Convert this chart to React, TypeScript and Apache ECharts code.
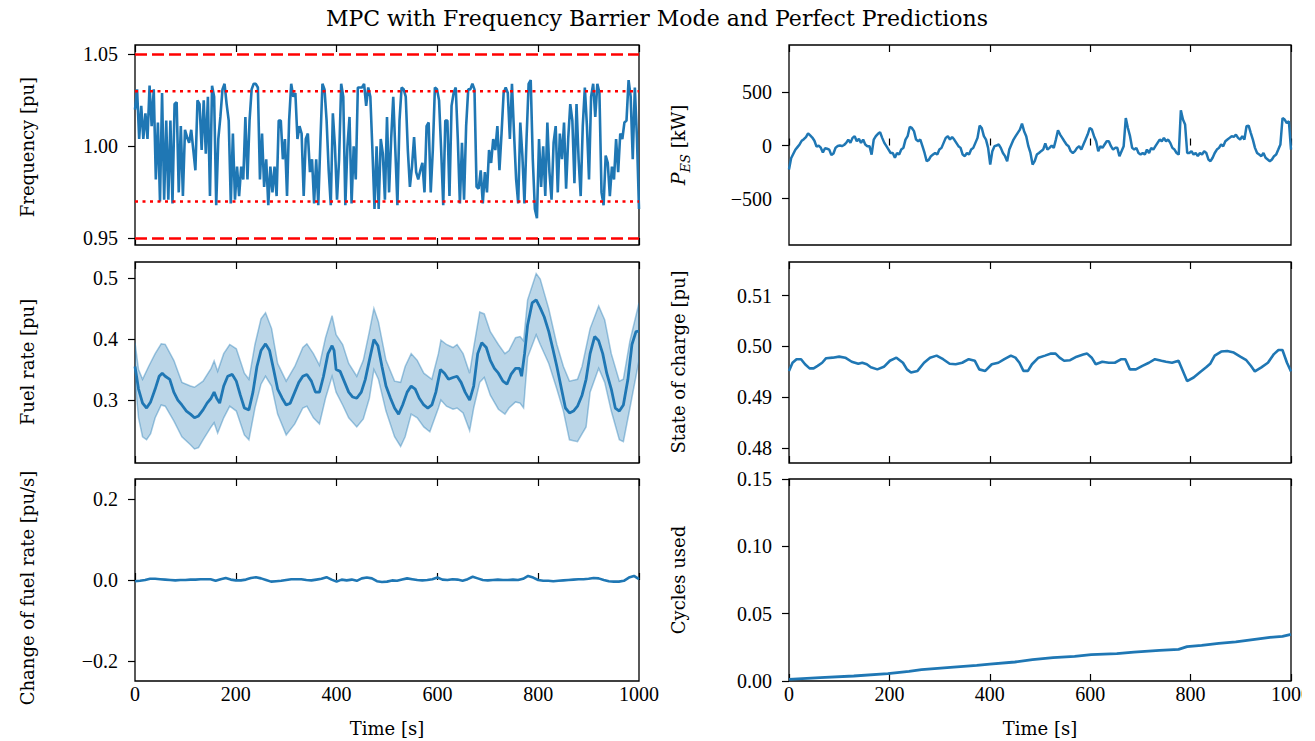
import React, { useEffect, useRef } from "react";
import * as echarts from "echarts";

// ---------------- DATA ----------------
const TITLE = "MPC with Frequency Barrier Mode and Perfect Predictions";
const xTicks = [0, 200, 400, 600, 800, 1000];

// Frequency [pu], sampled uniformly over 0..1000 s
const freqValues = [
  1.020, 1.031, 1.004, 1.022, 1.004, 1.018, 1.004, 1.033, 1.011, 1.031,
  0.982, 1.013, 0.970, 1.029, 0.971, 1.014, 0.971, 1.014, 0.969, 1.023,
  1.024, 0.975, 1.011, 0.973, 1.009, 1.005, 1.002, 1.009, 0.998, 0.987,
  1.025, 1.023, 0.998, 1.025, 0.996, 1.027, 0.973, 1.033, 1.027, 0.968,
  1.004, 1.016, 1.031, 1.034, 1.023, 1.014, 0.969, 1.007, 0.971, 0.989,
  0.973, 0.989, 0.982, 1.016, 0.982, 1.014, 1.031, 1.034, 1.034, 1.032,
  0.982, 1.007, 0.978, 0.993, 0.968, 0.989, 0.975, 0.989, 0.973, 1.014,
  1.014, 0.993, 1.004, 0.973, 1.014, 1.034, 1.027, 1.029, 1.004, 1.011,
  1.007, 0.973, 1.004, 1.007, 0.986, 0.993, 0.969, 0.993, 0.968, 1.002,
  1.034, 1.031, 1.014, 0.987, 0.968, 1.018, 1.000, 0.971, 0.993, 1.034,
  1.027, 0.968, 1.000, 1.016, 0.969, 1.000, 0.982, 1.032, 1.032, 1.032,
  1.034, 1.022, 1.032, 1.027, 0.998, 0.966, 1.000, 0.966, 1.004, 0.996,
  0.971, 1.016, 0.975, 1.004, 1.027, 0.998, 0.968, 1.014, 1.032, 1.031,
  1.027, 0.998, 0.978, 0.989, 1.005, 0.986, 0.982, 0.987, 0.991, 0.975,
  1.011, 1.013, 0.975, 0.998, 1.032, 1.031, 1.025, 0.998, 0.968, 1.014,
  1.014, 0.973, 1.022, 1.029, 1.032, 1.004, 0.969, 1.002, 0.971, 1.011,
  1.031, 1.031, 1.034, 1.031, 0.978, 0.977, 0.987, 0.969, 0.986, 0.975,
  0.998, 0.991, 1.004, 0.998, 1.011, 0.987, 1.007, 1.029, 1.032, 1.029,
  1.004, 1.034, 1.007, 0.982, 0.969, 1.013, 0.995, 0.969, 1.004, 1.034,
  1.036, 0.993, 0.966, 0.961, 1.004, 0.978, 1.000, 0.973, 1.013, 0.986,
  0.971, 1.002, 1.011, 0.975, 1.007, 0.993, 1.013, 0.977, 1.004, 1.023,
  1.014, 0.980, 1.023, 0.993, 0.973, 1.011, 1.032, 1.011, 0.982, 1.027,
  1.034, 1.016, 1.034, 1.029, 0.975, 0.968, 0.995, 0.991, 0.973, 0.989,
  0.982, 1.004, 0.986, 1.007, 1.004, 1.013, 1.014, 1.036, 1.027, 0.993,
  1.032, 1.005, 0.966,
];
const freqLimits = [0.95, 1.05];
const freqBarriers = [0.97, 1.03];

// Energy storage power [kW], sampled uniformly over 0..1000 s
const pesValues = [
  -225, -120, -80, -40, -15, 10, 45, 60, 80, 115,
  95, 75, 45, -10, 0, -20, -65, -25, -30, -38,
  -90, -75, -20, -5, 0, -5, 5,
  25, 56, 25, 72, 88, 40, 62, 25, 56, 10,
  -6, -6, -85, 56, 88, 110, 125, 72, 25, -6,
  -38, -70, -70, -115, -70, -85, -38, -22, 56, 88,
  175, 165, 135, 56, 40, 56, -6, -70, -147, -135,
  -100, -85, -70, -85, -38, -22, 25, 72, 88, 56,
  81, 56, 25, -6, -22, -85, -100, -70, -85, -38,
  -22, 25, 72, 187, 165, 88, 56, -22, -178, -53,
  -6, 0, 10, -22, -70, -100, -147, -38, 10, 56,
  88, 119, 150, 206, 135, 88, -6, -70, -178, -147,
  -85, -70, -53, -38, 19, -38, -22, 0, -22, 56,
  144, 103, 72, 40, 10, -6, -53, -70, -53, -22,
  -6, -38, 10, 56, 103, 165, 150, 88, 40, -53,
  -6, -22, 10, 40, 40, -6, -38, -22, -22, -100,
  -53, -6, 259, 165, 88, -22, -38, -22, -70, -85,
  -70, -85, -38, -70, -22, -38, -6, 25, 56, 40,
  72, 40, 56, 25, -22, -38, -70, -85, 331, 244,
  197, -70, -70, -53, -85, -70, -100, -70, -85, -53,
  -70, -131, -147, -115, -70, -38, -22, 10, -6, 40,
  56, 72, 88, 81, 103, 72, 56, 88, 56, 181,
  187, 119, 56, -22, -70, -85, -100, -70, -115, -131,
  -147, -131, -100, -85, -38, 10, 259, 244, 212, 228,
  -38,
];

// Fuel rate mean [t, pu]
const fuelMean = [
  [0, 0.355], [7, 0.318], [15, 0.295], [23, 0.287], [31, 0.297], [40, 0.318], [48, 0.339], [54, 0.344],
  [60, 0.339], [69, 0.334], [77, 0.313], [85, 0.300], [93, 0.292], [102, 0.282], [110, 0.277], [118, 0.271],
  [126, 0.274], [135, 0.284], [143, 0.295], [151, 0.303], [157, 0.313], [162, 0.303], [168, 0.295], [176, 0.323],
  [184, 0.339], [193, 0.342], [201, 0.331], [209, 0.308], [217, 0.287], [226, 0.284], [234, 0.313], [242, 0.355],
  [250, 0.381], [259, 0.392], [267, 0.381], [275, 0.350], [283, 0.318], [292, 0.303], [300, 0.292], [308, 0.295],
  [317, 0.313], [325, 0.329], [333, 0.339], [341, 0.342], [350, 0.331], [358, 0.313], [366, 0.313], [374, 0.339],
  [383, 0.376], [391, 0.389], [395, 0.381], [399, 0.350], [407, 0.347], [416, 0.329], [424, 0.313], [432, 0.305],
  [440, 0.303], [449, 0.313], [457, 0.334], [465, 0.365], [474, 0.399], [482, 0.389], [490, 0.355], [498, 0.323],
  [507, 0.303], [515, 0.287], [523, 0.277], [531, 0.292], [540, 0.313], [548, 0.323], [556, 0.318], [564, 0.303],
  [573, 0.292], [581, 0.287], [589, 0.292], [597, 0.313], [606, 0.350], [614, 0.344], [622, 0.334], [631, 0.337],
  [639, 0.339], [647, 0.329], [655, 0.313], [664, 0.300], [672, 0.323], [680, 0.376], [688, 0.394], [697, 0.386],
  [705, 0.365], [713, 0.352], [721, 0.344], [730, 0.331], [738, 0.326], [746, 0.342], [755, 0.352], [763, 0.352],
  [767, 0.339], [773, 0.376], [779, 0.423], [788, 0.459], [796, 0.464], [804, 0.451], [812, 0.436], [821, 0.412],
  [829, 0.384], [837, 0.355], [845, 0.323], [854, 0.287], [862, 0.279], [870, 0.282], [878, 0.290], [887, 0.308],
  [895, 0.334], [903, 0.376], [912, 0.404], [920, 0.397], [928, 0.376], [936, 0.344], [945, 0.318], [953, 0.287],
  [961, 0.282], [969, 0.292], [978, 0.334], [986, 0.391], [994, 0.412], [1000, 0.413],
];
const fuelUpper = [
  [0, 0.394], [7, 0.350], [15, 0.334], [27, 0.355], [40, 0.376], [52, 0.392], [60, 0.391], [77, 0.365],
  [93, 0.329], [110, 0.323], [118, 0.321], [135, 0.331], [151, 0.352], [157, 0.364], [164, 0.347], [176, 0.376],
  [188, 0.391], [201, 0.384], [217, 0.344], [226, 0.334], [238, 0.391], [250, 0.433], [259, 0.443], [271, 0.417],
  [283, 0.360], [300, 0.331], [317, 0.355], [333, 0.386], [341, 0.392], [354, 0.376], [366, 0.357], [378, 0.402],
  [391, 0.438], [399, 0.407], [412, 0.391], [424, 0.360], [440, 0.339], [453, 0.365], [465, 0.412], [474, 0.450],
  [483, 0.428], [498, 0.365], [515, 0.331], [527, 0.329], [536, 0.355], [548, 0.376], [560, 0.365], [573, 0.344],
  [589, 0.334], [602, 0.376], [607, 0.398], [618, 0.391], [631, 0.386], [639, 0.391], [651, 0.376], [664, 0.344],
  [672, 0.386], [684, 0.444], [693, 0.441], [705, 0.412], [721, 0.391], [734, 0.376], [742, 0.381], [755, 0.402],
  [764, 0.404], [771, 0.397], [779, 0.464], [796, 0.507], [804, 0.498], [812, 0.475], [821, 0.449], [837, 0.391],
  [850, 0.355], [862, 0.331], [878, 0.334], [887, 0.355], [903, 0.417], [920, 0.454], [932, 0.431], [945, 0.376],
  [961, 0.331], [969, 0.334], [982, 0.397], [1000, 0.459],
];
const fuelLower = [
  [0, 0.334], [7, 0.271], [15, 0.240], [23, 0.235], [31, 0.245], [40, 0.271], [52, 0.292], [60, 0.290],
  [77, 0.266], [93, 0.240], [110, 0.227], [118, 0.220], [126, 0.222], [135, 0.235], [151, 0.256], [157, 0.263],
  [164, 0.246], [176, 0.271], [188, 0.290], [201, 0.282], [217, 0.243], [226, 0.235], [238, 0.287], [250, 0.326],
  [259, 0.339], [271, 0.323], [283, 0.277], [300, 0.243], [317, 0.261], [333, 0.287], [341, 0.290], [354, 0.271],
  [366, 0.261], [378, 0.303], [391, 0.339], [399, 0.313], [412, 0.292], [424, 0.271], [440, 0.256], [453, 0.269],
  [465, 0.303], [474, 0.350], [483, 0.334], [498, 0.282], [515, 0.240], [527, 0.224], [536, 0.240], [548, 0.277],
  [560, 0.271], [573, 0.256], [585, 0.248], [602, 0.287], [607, 0.300], [618, 0.290], [631, 0.285], [639, 0.287],
  [651, 0.279], [664, 0.250], [672, 0.287], [684, 0.329], [693, 0.337], [705, 0.308], [721, 0.285], [734, 0.277],
  [742, 0.287], [755, 0.297], [764, 0.295], [771, 0.287], [779, 0.370], [796, 0.407], [804, 0.391], [821, 0.360],
  [837, 0.318], [850, 0.282], [862, 0.235], [878, 0.232], [895, 0.256], [903, 0.313], [920, 0.352], [932, 0.329],
  [945, 0.282], [961, 0.235], [969, 0.232], [982, 0.287], [1000, 0.365],
];

// State of charge [t, pu]
const socData = [
  [0, 0.4952], [7, 0.4968], [15, 0.4975], [24, 0.4975], [32, 0.4965], [41, 0.4957], [49, 0.4957], [57, 0.4962],
  [66, 0.4968], [74, 0.4977], [87, 0.4978], [100, 0.4980], [112, 0.4978], [125, 0.4970], [138, 0.4966], [146, 0.4968],
  [155, 0.4965], [163, 0.4959], [176, 0.4955], [189, 0.4960], [201, 0.4972], [214, 0.4978], [227, 0.4968], [235, 0.4955],
  [243, 0.4949], [256, 0.4952], [269, 0.4968], [281, 0.4978], [294, 0.4982], [307, 0.4975], [320, 0.4966], [332, 0.4965],
  [345, 0.4968], [358, 0.4975], [370, 0.4972], [379, 0.4955], [391, 0.4952], [404, 0.4965], [417, 0.4968], [429, 0.4975],
  [442, 0.4982], [451, 0.4978], [459, 0.4968], [467, 0.4952], [476, 0.4952], [484, 0.4965], [497, 0.4978], [510, 0.4982],
  [522, 0.4986], [531, 0.4986], [539, 0.4978], [548, 0.4972], [560, 0.4973], [573, 0.4980], [586, 0.4984], [594, 0.4986],
  [603, 0.4978], [611, 0.4965], [624, 0.4970], [637, 0.4968], [649, 0.4968], [662, 0.4975], [670, 0.4975], [679, 0.4955],
  [691, 0.4955], [704, 0.4962], [717, 0.4968], [729, 0.4975], [742, 0.4972], [751, 0.4970], [763, 0.4968], [776, 0.4972],
  [793, 0.4932], [806, 0.4939], [818, 0.4949], [831, 0.4959], [839, 0.4966], [848, 0.4982], [861, 0.4990], [873, 0.4991],
  [886, 0.4988], [899, 0.4980], [911, 0.4973], [920, 0.4962], [928, 0.4951], [941, 0.4959], [954, 0.4968], [966, 0.4985],
  [975, 0.4993], [983, 0.4993], [992, 0.4968], [1000, 0.4951],
];

// Change of fuel rate [pu/s], every 10 s
const changeValues = [
  -0.003, -0.002, 0.000, 0.003, 0.003, 0.002, 0.001, 0.000, -0.001, 0.000,
  0.000, 0.001, 0.001, 0.002, 0.002, 0.002, -0.002, 0.002, 0.005, 0.001,
  -0.001, -0.001, 0.001, 0.005, 0.007, 0.004, 0.000, -0.004, -0.003, -0.002,
  0.000, 0.002, 0.002, 0.002, 0.000, -0.001, 0.001, 0.003, 0.007, 0.001,
  -0.004, 0.001, -0.001, 0.001, -0.002, 0.004, 0.006, 0.004, -0.003, -0.005,
  -0.004, -0.001, -0.002, 0.001, 0.004, 0.002, 0.000, -0.001, 0.000, 0.002,
  0.006, 0.001, 0.000, 0.002, 0.001, -0.002, 0.002, 0.008, 0.004, 0.000,
  -0.001, 0.000, 0.001, 0.000, 0.000, 0.001, 0.000, 0.003, 0.010, 0.006,
  0.000, -0.002, -0.002, -0.003, -0.002, -0.001, 0.000, 0.001, 0.002, 0.002,
  0.003, 0.005, 0.004, 0.000, -0.003, -0.004, -0.004, -0.002, 0.006, 0.010,
  0.002,
];

// Cycles used [t, cycles]
const cyclesData = [
  [0, 0.0012], [62, 0.0025], [129, 0.0037], [197, 0.0054], [239, 0.0072], [264, 0.0084], [315, 0.0099],
  [374, 0.0116], [400, 0.0126], [450, 0.0141], [485, 0.0158], [526, 0.0173], [569, 0.0183], [602, 0.0196],
  [653, 0.0203], [687, 0.0215], [738, 0.0228], [776, 0.0235], [793, 0.0255], [822, 0.0265], [856, 0.0280],
  [890, 0.0290], [924, 0.0307], [958, 0.0324], [983, 0.0332], [1000, 0.0347],
];

const freqTicks = [0.95, 1.0, 1.05];
const pesTicks = [-500, 0, 500];
const fuelTicks = [0.3, 0.4, 0.5];
const socTicks = [0.48, 0.49, 0.5, 0.51];
const changeTicks = [-0.2, 0.0, 0.2];
const cyclesTicks = [0, 0.05, 0.1, 0.15];

// ---------------- STYLE / LAYOUT ----------------
const BLUE = "#1f77b4";
const NUMFONT = "'Liberation Serif', 'DejaVu Serif', serif";
const TXTFONT = "'DejaVu Serif', 'Liberation Serif', serif";
const GRIDS = [
  { left: 135, top: 45, width: 504, height: 200 },
  { left: 789, top: 45, width: 502, height: 200 },
  { left: 135, top: 262, width: 504, height: 201 },
  { left: 789, top: 262, width: 502, height: 201 },
  { left: 135, top: 479, width: 504, height: 202 },
  { left: 789, top: 479, width: 502, height: 202 },
];

const uniform = (vals: number[]) => vals.map((v, i) => [(i * 1000) / (vals.length - 1), v]);

const fmt = (d: number) => (v: number) => {
  const s = Math.abs(v).toFixed(d);
  return v < -1e-12 ? "\u2212" + s : s;
};

function xAx(gridIndex: number, position: "top" | "bottom", showLabels: boolean) {
  return {
    type: "value",
    gridIndex,
    position,
    min: xTicks[0],
    max: xTicks[xTicks.length - 1],
    interval: xTicks[1] - xTicks[0],
    axisLine: { show: false },
    splitLine: { show: false },
    axisTick: { show: true, inside: true, length: 7, lineStyle: { color: "#000", width: 1.2 } },
    axisLabel: {
      show: showLabels,
      color: "#000",
      fontFamily: NUMFONT,
      fontSize: 20,
      margin: 3,
      alignMinLabel: "center",
      alignMaxLabel: "center",
      formatter: (v: number) => String(v),
    },
  };
}

function yAx(gridIndex: number, min: number, max: number, ticks: number[], dec: number) {
  return {
    type: "value",
    gridIndex,
    min,
    max,
    axisLine: { show: false },
    splitLine: { show: false },
    axisTick: {
      show: true,
      inside: false,
      length: 7,
      lineStyle: { color: "#000", width: 1.2 },
      customValues: ticks,
    },
    axisLabel: {
      customValues: ticks,
      formatter: fmt(dec),
      color: "#000",
      fontFamily: NUMFONT,
      fontSize: 20,
      margin: 17,
    },
  };
}

function lineSeries(xi: number, yi: number, data: number[][], width = 2.5) {
  return {
    type: "line",
    xAxisIndex: xi,
    yAxisIndex: yi,
    data,
    showSymbol: false,
    symbol: "none",
    silent: true,
    clip: true,
    lineStyle: { color: BLUE, width },
    z: 3,
  };
}

function hLine(level: number, dash: number[]) {
  return {
    type: "line",
    xAxisIndex: 0,
    yAxisIndex: 0,
    data: [
      [0, level],
      [1000, level],
    ],
    symbol: "none",
    silent: true,
    lineStyle: { color: "#ff0000", width: 2.5, type: dash },
    z: 4,
  };
}

function yLabel(x: number, y: number, text: string, rich?: any) {
  return {
    type: "text",
    x,
    y,
    rotation: Math.PI / 2,
    style: {
      text,
      rich,
      fill: "#000",
      fontFamily: TXTFONT,
      fontSize: 18,
      align: "center",
      verticalAlign: "middle",
      textAlign: "center",
      textVerticalAlign: "middle",
    },
  };
}

function plainText(x: number, y: number, text: string, size = 18) {
  return {
    type: "text",
    x,
    y,
    style: {
      text,
      fill: "#000",
      fontFamily: TXTFONT,
      fontSize: size,
      align: "center",
      verticalAlign: "middle",
      textAlign: "center",
      textVerticalAlign: "middle",
    },
  };
}

export default function App() {
  const ref = useRef<HTMLDivElement>(null);
  useEffect(() => {
    if (!ref.current) return;
    const chart = echarts.init(ref.current, null, { renderer: "svg" });

    const xAxes: any[] = [];
    GRIDS.forEach((_, g) => {
      xAxes.push(xAx(g, "bottom", g >= 4));
      xAxes.push(xAx(g, "top", false));
    });

    const bandSeries = {
      type: "custom",
      xAxisIndex: 4,
      yAxisIndex: 2,
      data: fuelUpper,
      silent: true,
      clip: true,
      z: 2,
      renderItem: (params: any, api: any) => {
        if (params.dataIndex !== 0) return null;
        const pts = fuelUpper
          .map((p) => api.coord(p))
          .concat(fuelLower.slice().reverse().map((p) => api.coord(p)));
        return {
          type: "polygon",
          shape: { points: pts },
          style: { fill: "rgba(31,119,180,0.3)", stroke: "rgba(31,119,180,0.4)", lineWidth: 1.5 },
        };
      },
    };

    const option: any = {
      animation: false,
      backgroundColor: "#fff",
      textStyle: { fontFamily: NUMFONT },
      grid: GRIDS.map((g) => ({
        ...g,
        show: true,
        borderColor: "#000",
        borderWidth: 1.3,
        backgroundColor: "transparent",
        containLabel: false,
        outerBoundsMode: "none",
      })),
      xAxis: xAxes,
      yAxis: [
        yAx(0, 0.9464, 1.0551, freqTicks, 2),
        yAx(1, -935, 945, pesTicks, 0),
        yAx(2, 0.197, 0.526, fuelTicks, 1),
        yAx(3, 0.4771, 0.5166, socTicks, 2),
        yAx(4, -0.25, 0.25, changeTicks, 1),
        yAx(5, 0, 0.15, cyclesTicks, 2),
      ],
      series: [
        lineSeries(0, 0, uniform(freqValues), 2.6),
        hLine(freqLimits[0], [12, 5]),
        hLine(freqLimits[1], [12, 5]),
        hLine(freqBarriers[0], [3, 4.5]),
        hLine(freqBarriers[1], [3, 4.5]),
        lineSeries(2, 1, uniform(pesValues), 2.5),
        bandSeries,
        lineSeries(4, 2, fuelMean, 2.8),
        lineSeries(6, 3, socData, 2.6),
        lineSeries(8, 4, changeValues.map((v, i) => [i * 10, v]), 2.6),
        lineSeries(10, 5, cyclesData, 2.8),
      ],
      graphic: [
        plainText(657, 18, TITLE, 22),
        yLabel(27, 147, "Frequency [pu]"),
        yLabel(678, 145, "{p|P}{s|ES} {n|[kW]}", {
          p: { fontStyle: "italic", fontSize: 19, fontFamily: TXTFONT, lineHeight: 28, verticalAlign: "middle" },
          s: { fontStyle: "italic", fontSize: 13, fontFamily: TXTFONT, lineHeight: 16, verticalAlign: "bottom" },
          n: { fontSize: 18, fontFamily: TXTFONT, lineHeight: 28, verticalAlign: "middle" },
        }),
        yLabel(27, 362, "Fuel rate [pu]"),
        yLabel(678, 362, "State of charge [pu]"),
        yLabel(27, 588, "Change of fuel rate [pu/s]"),
        yLabel(678, 580, "Cycles used"),
        plainText(387, 728, "Time [s]"),
        plainText(1040, 728, "Time [s]"),
      ],
    };
    chart.setOption(option);
    return () => chart.dispose();
  }, []);
  return (
    <div
      ref={ref}
      style={{
        position: "absolute",
        left: 0,
        top: 0,
        width: 1302,
        height: 741,
        overflow: "hidden",
        background: "#fff",
      }}
    />
  );
}
